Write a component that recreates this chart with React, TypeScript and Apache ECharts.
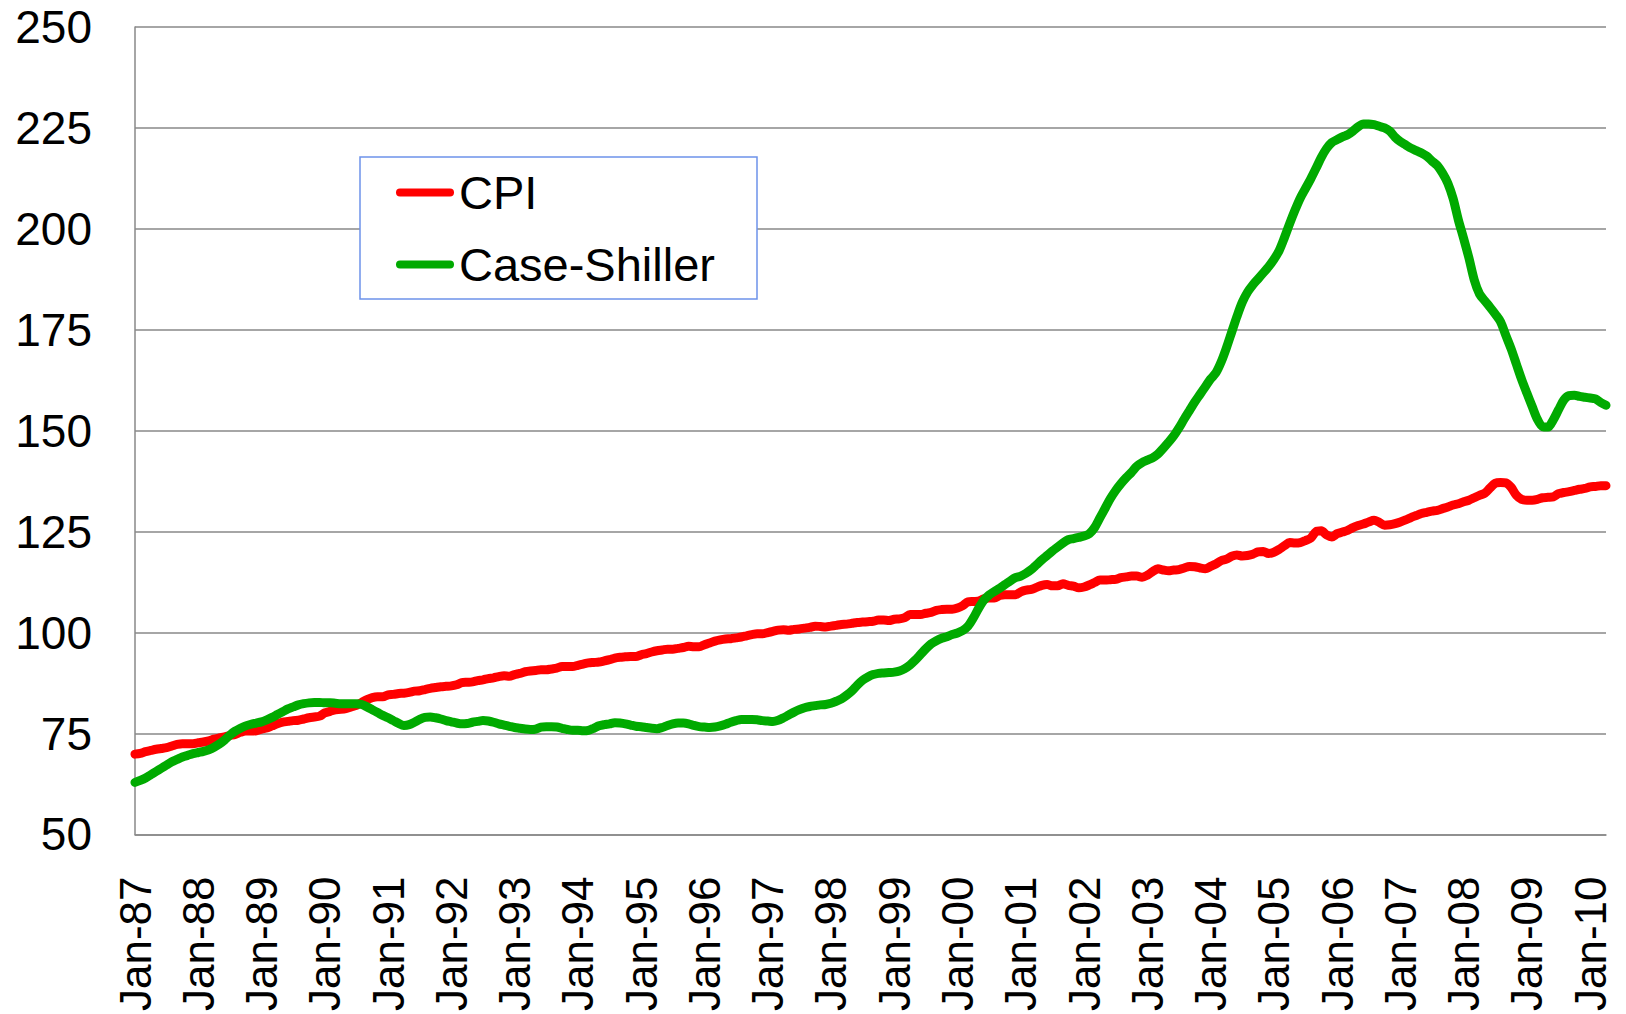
import React, { useEffect, useRef } from "react";
import * as echarts from "echarts";

const monthNames = ["Jan", "Feb", "Mar", "Apr", "May", "Jun", "Jul", "Aug", "Sep", "Oct", "Nov", "Dec"];
const firstYear = 1987;
const lastYear = 2010;
const lastMonthCount = 4; // Jan..Apr 2010

const categories: string[] = [];
for (let y = firstYear; y <= lastYear; y++) {
  const n = y === lastYear ? lastMonthCount : 12;
  for (let m = 0; m < n; m++) {
    categories.push(`${monthNames[m]}-${String(y % 100).padStart(2, "0")}`);
  }
}

const yTicks = { min: 50, max: 250, interval: 25 };

// CPI (rebased, Jan-97 = 100), monthly Jan-87 .. Apr-10
const cpi = [
  69.9, 70.1, 70.5, 70.8, 71.1, 71.3, 71.5, 71.9, 72.3, 72.5, 72.5, 72.5,
  72.7, 72.9, 73.2, 73.6, 73.9, 74.2, 74.5, 74.8, 75.3, 75.6, 75.6, 75.7,
  76.1, 76.4, 76.9, 77.4, 77.8, 78.0, 78.2, 78.3, 78.6, 78.9, 79.1, 79.3,
  80.1, 80.5, 80.9, 81.0, 81.2, 81.6, 82.0, 82.7, 83.4, 83.9, 84.1, 84.1,
  84.6, 84.7, 84.9, 85.0, 85.2, 85.5, 85.6, 85.9, 86.2, 86.4, 86.6, 86.7,
  86.8, 87.1, 87.6, 87.7, 87.8, 88.1, 88.3, 88.6, 88.8, 89.1, 89.3, 89.2,
  89.6, 89.9, 90.3, 90.5, 90.6, 90.8, 90.8, 91.0, 91.2, 91.6, 91.6, 91.6,
  91.9, 92.2, 92.5, 92.6, 92.7, 93.0, 93.3, 93.7, 93.9, 94.0, 94.1, 94.1,
  94.5, 94.8, 95.2, 95.5, 95.7, 95.9, 95.9, 96.1, 96.3, 96.6, 96.5, 96.5,
  97.0, 97.4, 97.9, 98.2, 98.4, 98.5, 98.7, 98.9, 99.2, 99.5, 99.7, 99.7,
  100.0, 100.3, 100.6, 100.7, 100.6, 100.8, 100.9, 101.1, 101.3, 101.6, 101.5, 101.4,
  101.6, 101.8, 102.0, 102.1, 102.3, 102.5, 102.6, 102.7, 102.8, 103.1, 103.1, 103.0,
  103.3, 103.4, 103.7, 104.5, 104.5, 104.5, 104.8, 105.0, 105.5, 105.7, 105.8, 105.8,
  106.1, 106.7, 107.6, 107.7, 107.8, 108.4, 108.6, 108.6, 109.2, 109.4, 109.4, 109.4,
  110.1, 110.5, 110.7, 111.2, 111.7, 111.9, 111.6, 111.6, 112.1, 111.7, 111.5, 111.1,
  111.3, 111.8, 112.4, 113.0, 113.0, 113.1, 113.2, 113.6, 113.8, 114.0, 114.0, 113.7,
  114.2, 115.1, 115.8, 115.5, 115.3, 115.5, 115.6, 116.0, 116.4, 116.3, 116.0, 115.8,
  116.4, 117.0, 117.8, 118.2, 118.9, 119.2, 119.0, 119.1, 119.4, 120.0, 120.1, 119.6,
  119.9, 120.6, 121.5, 122.3, 122.2, 122.3, 122.8, 123.4, 125.0, 125.2, 124.2, 123.7,
  124.5, 124.9, 125.3, 126.0, 126.5, 126.9, 127.4, 127.8, 127.3, 126.6, 126.7, 127.0,
  127.4, 127.9, 128.5, 129.0, 129.5, 129.8, 130.1, 130.3, 130.7, 131.1, 131.6, 131.9,
  132.4, 132.8, 133.4, 134.0, 134.5, 135.8, 137.0, 137.2, 137.1, 136.0, 134.0, 133.0,
  132.8, 132.8, 133.0, 133.4, 133.5, 133.6, 134.4, 134.7, 134.9, 135.2, 135.5, 135.7,
  136.1, 136.2, 136.4, 136.4,
];

// Case-Shiller 10-city composite, monthly Jan-87 .. Apr-10
const caseShiller = [
  62.9, 63.4, 64.0, 64.8, 65.6, 66.4, 67.2, 68.0, 68.6, 69.2, 69.6, 70.0,
  70.3, 70.6, 71.0, 71.6, 72.4, 73.4, 74.6, 75.6, 76.3, 76.9, 77.3, 77.6,
  77.9, 78.4, 79.0, 79.7, 80.4, 81.1, 81.6, 82.1, 82.4, 82.6, 82.7, 82.7,
  82.6, 82.6, 82.5, 82.4, 82.4, 82.4, 82.4, 82.2, 81.6, 80.9, 80.2, 79.5,
  78.9, 78.2, 77.5, 77.0, 77.2, 77.8, 78.5, 79.0, 79.1, 78.9, 78.6, 78.2,
  77.9, 77.6, 77.4, 77.5, 77.8, 78.0, 78.2, 78.1, 77.8, 77.4, 77.1, 76.8,
  76.5, 76.3, 76.1, 76.0, 76.1, 76.6, 76.7, 76.7, 76.6, 76.3, 76.0, 75.8,
  75.8, 75.7, 75.8, 76.3, 76.9, 77.2, 77.4, 77.7, 77.6, 77.4, 77.1, 76.8,
  76.7, 76.5, 76.3, 76.2, 76.5, 77.0, 77.4, 77.6, 77.6, 77.4, 77.0, 76.7,
  76.6, 76.5, 76.6, 76.9, 77.3, 77.8, 78.2, 78.5, 78.5, 78.5, 78.4, 78.2,
  78.1, 78.0, 78.3, 78.9, 79.6, 80.3, 80.9, 81.4, 81.7, 81.9, 82.1, 82.2,
  82.5, 83.0, 83.6, 84.5, 85.6, 87.0, 88.2, 89.0, 89.6, 89.9, 90.0, 90.1,
  90.2, 90.5, 91.1, 92.0, 93.2, 94.6, 96.0, 97.2, 98.0, 98.6, 99.0, 99.5,
  99.9, 100.5, 101.6, 103.6, 106.0, 108.0, 109.3, 110.2, 111.0, 111.9, 112.8, 113.6,
  114.0, 114.7, 115.6, 116.8, 118.0, 119.1, 120.2, 121.2, 122.2, 123.0, 123.3, 123.6,
  123.9, 124.5, 126.0, 128.4, 130.8, 133.2, 135.2, 136.9, 138.4, 139.7, 141.2, 142.1,
  142.7, 143.3, 144.2, 145.6, 147.1, 148.7, 150.7, 152.9, 155.0, 157.1, 159.0, 160.9,
  162.8, 164.3, 167.0, 170.5, 174.4, 178.3, 181.8, 184.3, 186.1, 187.6, 189.1, 190.6,
  192.4, 194.6, 197.8, 201.3, 204.6, 207.6, 210.0, 212.4, 215.0, 217.7, 219.9, 221.4,
  222.1, 222.8, 223.3, 224.2, 225.3, 226.0, 226.0, 225.8, 225.4, 225.0, 224.2, 222.7,
  221.6, 220.8, 220.0, 219.4, 218.8, 218.0, 216.8, 215.7, 213.8, 211.3, 207.5, 202.2,
  197.6, 192.8, 187.4, 183.9, 182.2, 180.6, 178.9, 177.0, 173.6, 170.3, 166.5, 162.7,
  159.3, 156.0, 152.8, 151.0, 150.9, 152.7, 155.2, 157.6, 158.7, 158.8, 158.5, 158.3,
  158.1, 157.9, 157.0, 156.3,
];

const FONT = "'Liberation Sans', Arial, sans-serif";
const GRID_COLOR = "#898989";

export default function App() {
  const ref = useRef<HTMLDivElement>(null);

  useEffect(() => {
    if (!ref.current) return;
    const chart = echarts.init(ref.current, null, { renderer: "svg" });
    const legendIcon = "path://M4,0 L54,0 A4,4 0 0 1 54,8 L4,8 A4,4 0 0 1 4,0 Z";
    chart.setOption({
      animation: false,
      backgroundColor: "#ffffff",
      grid: { left: 135, top: 27, right: 20, bottom: 179, containLabel: false },
      xAxis: {
        type: "category",
        data: categories,
        boundaryGap: false,
        axisLine: { show: true, lineStyle: { color: GRID_COLOR, width: 1.5 } },
        axisTick: { show: false },
        splitLine: { show: false },
        axisLabel: {
          interval: 11,
          rotate: 90,
          margin: 42,
          fontSize: 44,
          color: "#000000",
          fontFamily: FONT,
        },
      },
      yAxis: {
        type: "value",
        min: yTicks.min,
        max: yTicks.max,
        interval: yTicks.interval,
        axisLine: { show: true, lineStyle: { color: GRID_COLOR, width: 1.5 } },
        axisTick: { show: false },
        splitLine: { show: true, lineStyle: { color: GRID_COLOR, width: 1.5 } },
        axisLabel: {
          margin: 43,
          fontSize: 46,
          color: "#000000",
          fontFamily: FONT,
        },
      },
      graphic: [
        {
          type: "rect",
          z: 50,
          shape: { x: 360, y: 157, width: 397, height: 142 },
          style: { fill: "#ffffff", stroke: "#6d93ea", lineWidth: 1.5 },
        },
      ],
      legend: {
        show: true,
        orient: "vertical",
        left: 396,
        top: 169,
        padding: 0,
        itemGap: 25,
        itemWidth: 58,
        itemHeight: 9,
        z: 60,
        textStyle: { fontSize: 47, color: "#000000", fontFamily: FONT },
        data: [
          { name: "CPI", icon: legendIcon },
          { name: "Case-Shiller", icon: legendIcon },
        ],
      },
      series: [
        {
          name: "CPI",
          type: "line",
          data: cpi,
          showSymbol: false,
          smooth: 0.3,
          color: "#ff0000",
          lineStyle: { color: "#ff0000", width: 9, cap: "round", join: "round" },
          itemStyle: { color: "#ff0000" },
        },
        {
          name: "Case-Shiller",
          type: "line",
          data: caseShiller,
          showSymbol: false,
          smooth: 0.3,
          color: "#00aa00",
          lineStyle: { color: "#00aa00", width: 9, cap: "round", join: "round" },
          itemStyle: { color: "#00aa00" },
        },
      ],
    });
    return () => chart.dispose();
  }, []);

  return (
    <div
      ref={ref}
      style={{ position: "fixed", left: 0, top: 0, width: 1626, height: 1014, background: "#fff" }}
    />
  );
}
